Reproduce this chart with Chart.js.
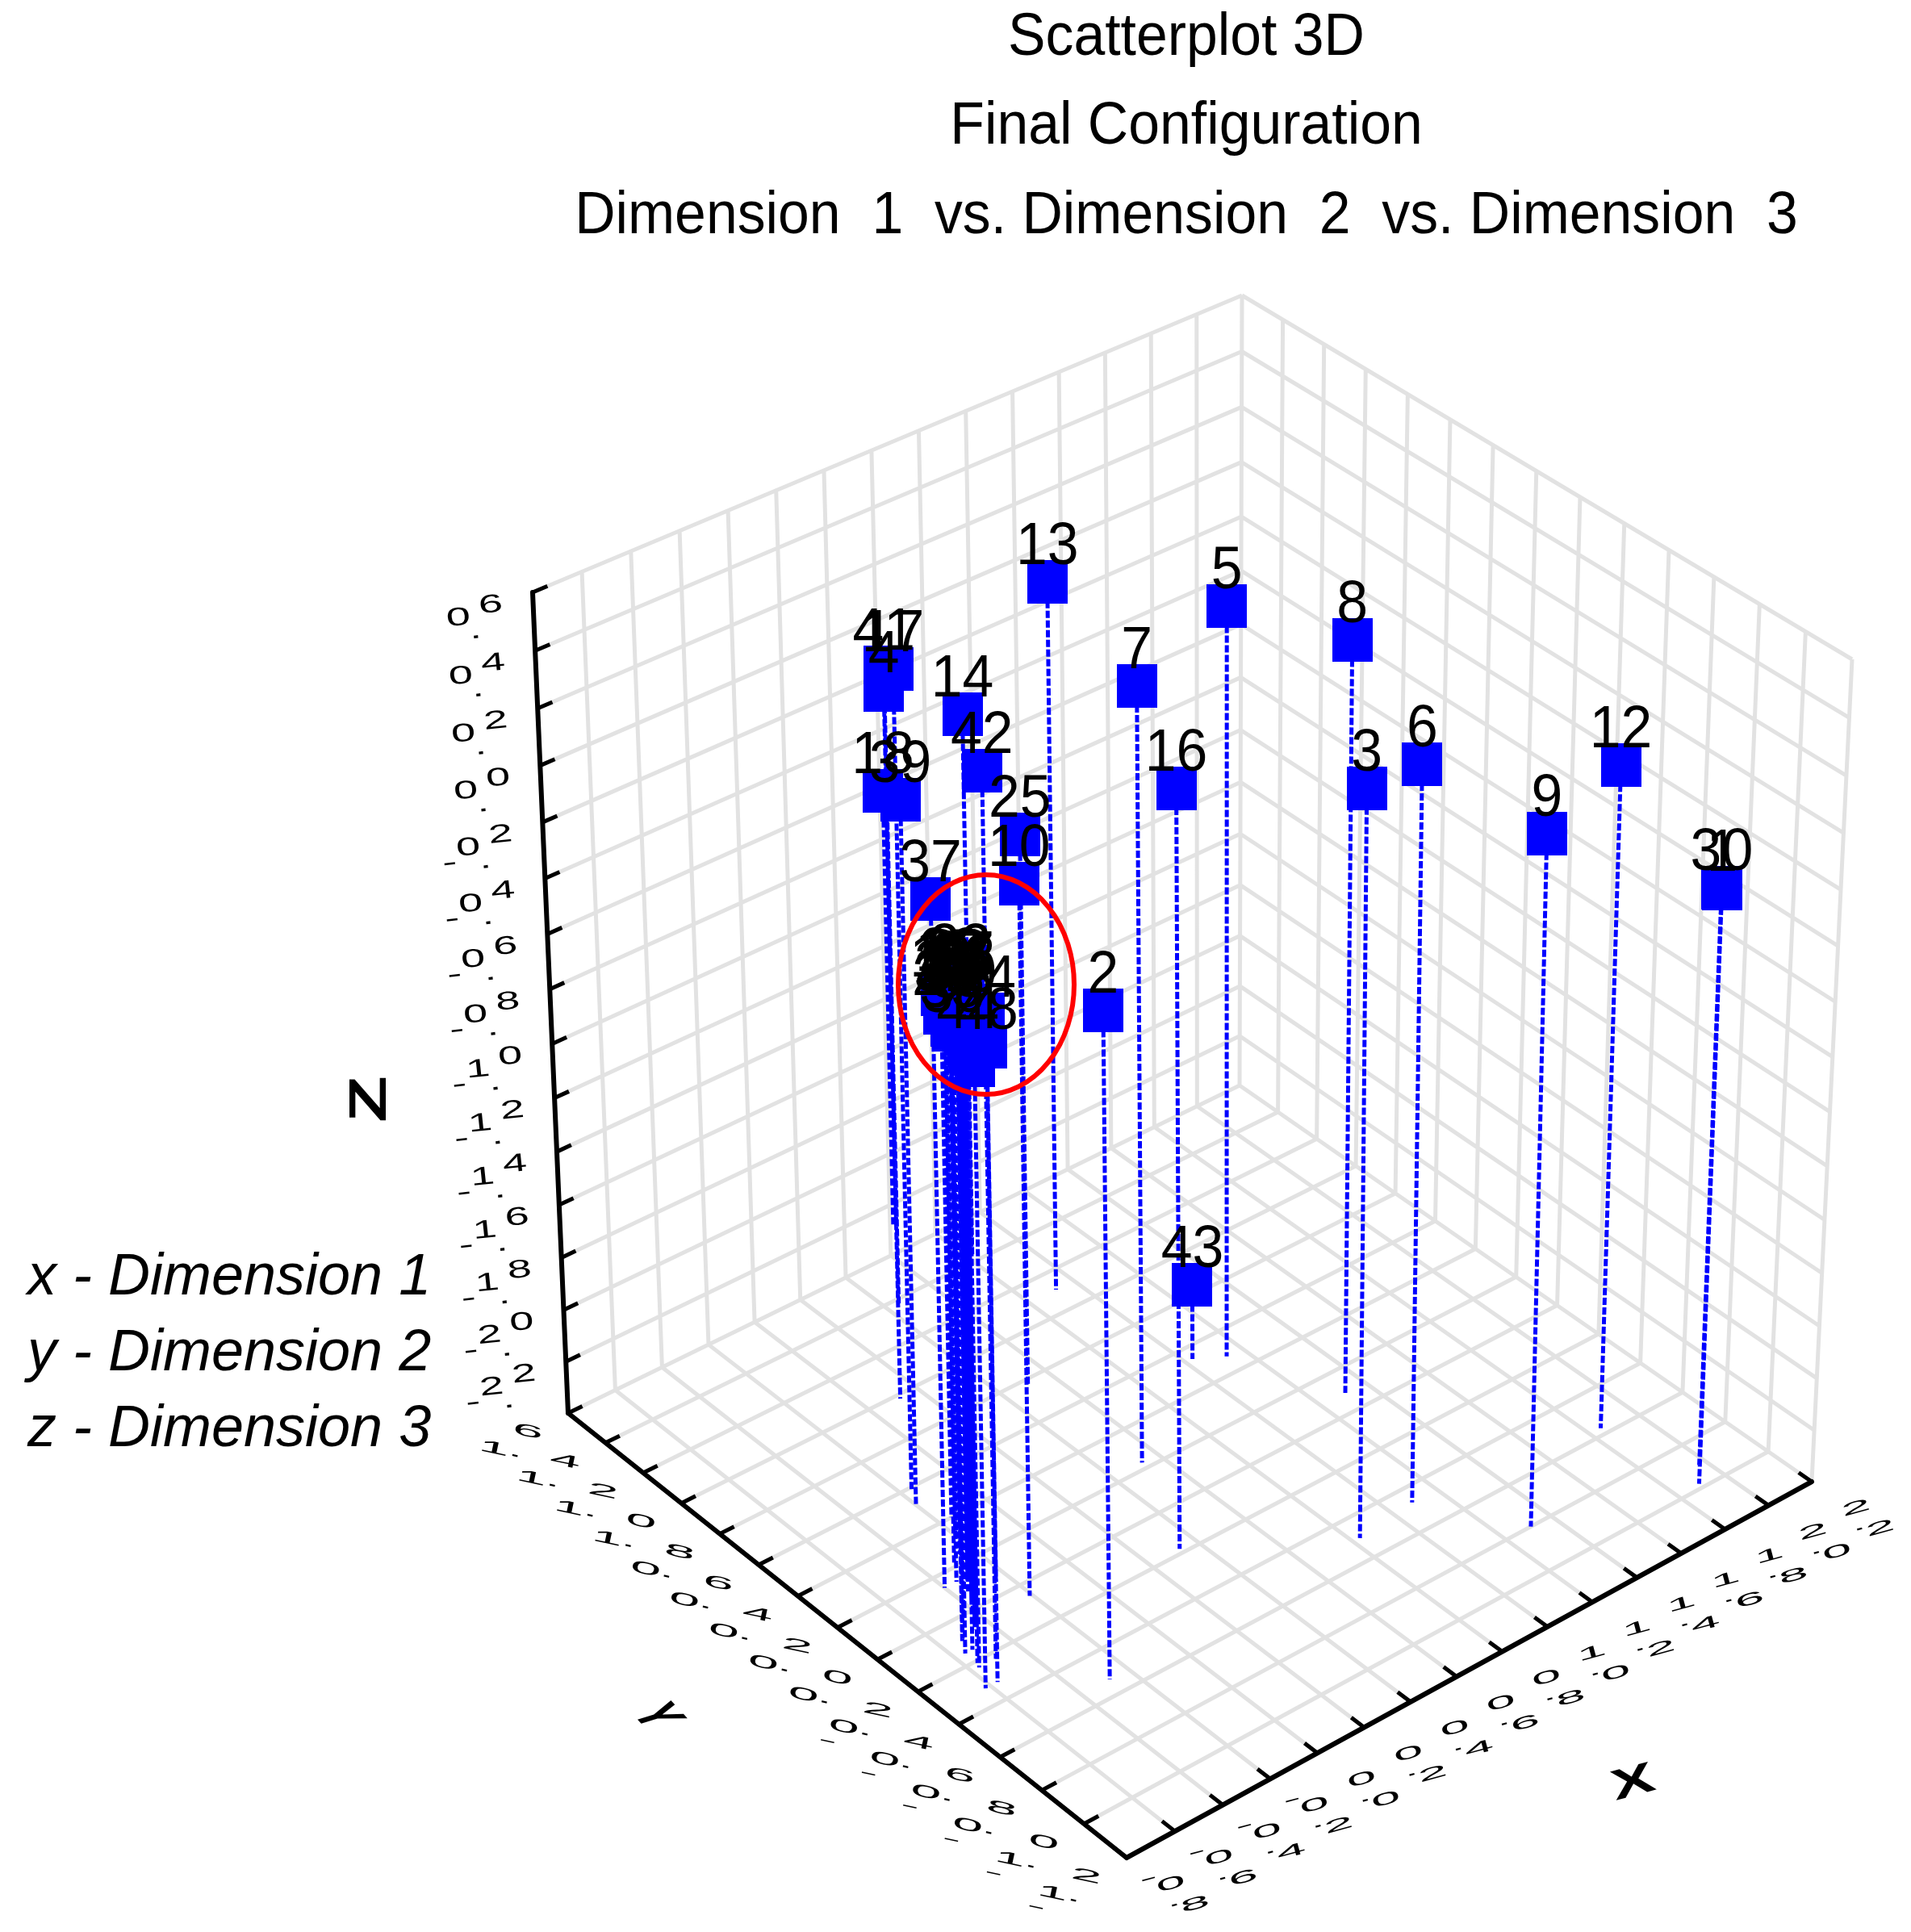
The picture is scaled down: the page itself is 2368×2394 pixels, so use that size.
<!doctype html>
<html>
<head>
<meta charset="utf-8">
<title>Scatterplot 3D</title>
<script src="https://cdn.jsdelivr.net/npm/chart.js@4"></script>
<style>
body { margin: 0; background: #fff; }
canvas { display: block; }
</style>
</head>
<body>
<canvas id="plot" width="2368" height="2394"></canvas>
<script>
const pointLabels = ["1","2","3","4","5","6","7","8","9","10","11","12","13","14","15","16","17","18","19","20","21","22","23","24","25","26","27","28","29","30","31","32","33","34","35","36","37","38","39","40","41","42","43","44","","48"];
const dim1 = [1.90,-0.28,0.83,0.12,1.13,1.09,0.53,1.31,1.31,-0.21,-0.21,1.85,0.92,0.82,-0.25,0.33,-0.16,0.72,-0.15,-0.31,-0.19,-0.38,-0.32,-0.44,0.50,-0.30,-0.46,-0.53,-0.36,1.97,-0.53,-0.35,-0.43,-0.50,-0.52,-0.56,-0.40,-0.40,-0.20,-0.56,0.45,-0.57,1.03,-0.57,-0.62,-0.25];
const dim2 = [-0.98,-0.53,-0.50,0.98,0.48,-0.47,0.23,0.09,-0.80,-0.06,0.31,-0.57,1.11,1.43,0.24,-0.18,0.59,1.73,0.40,0.16,0.33,0.03,0.12,0.00,0.77,0.21,-0.08,-0.10,0.07,-0.91,-0.15,0.14,-0.05,-0.23,-0.09,-0.15,0.14,0.00,0.52,-0.21,1.38,-0.32,0.54,-0.23,-0.32,0.06];
const dim3 = [-0.19,0.01,0.33,0.22,0.38,0.30,0.44,0.38,0.14,0.18,-0.37,0.06,0.25,-0.34,-0.32,0.36,0.58,-0.73,-0.46,-0.25,-0.43,-0.14,-0.23,-0.16,-0.33,-0.37,-0.08,-0.09,-0.24,-0.25,-0.04,-0.30,-0.12,-0.07,-0.17,-0.14,0.10,-0.23,0.18,-0.04,-0.01,0.82,-2.11,-0.15,-0.15,-0.43];

const xTicks = [-0.8,-0.6,-0.4,-0.2,0.0,0.2,0.4,0.6,0.8,1.0,1.2,1.4,1.6,1.8,2.0,2.2];
const yTicks = [1.6,1.4,1.2,1.0,0.8,0.6,0.4,0.2,0.0,-0.2,-0.4,-0.6,-0.8,-1.0,-1.2];
const zTicks = [0.6,0.4,0.2,0.0,-0.2,-0.4,-0.6,-0.8,-1.0,-1.2,-1.4,-1.6,-1.8,-2.0,-2.2,-2.4];
const zLabelled = zTicks.slice(0, 15); // bottom tick has no number in the original

const titleLines = ["Scatterplot 3D", "Final Configuration", "Dimension  1  vs. Dimension  2  vs. Dimension  3"];
const keyLines = ["x - Dimension 1", "y - Dimension 2", "z - Dimension 3"];

const xMin = -0.8, xMax = 2.2, yMin = -1.2, yMax = 1.6, zMin = -2.4, zMax = 0.6;

// maps the unit square on to a four sided shape, so the box keeps its perspective
function quad(p00, p10, p11, p01) {
    const dx1 = p10[0]-p11[0], dx2 = p01[0]-p11[0], sx = p00[0]-p10[0]+p11[0]-p01[0];
    const dy1 = p10[1]-p11[1], dy2 = p01[1]-p11[1], sy = p00[1]-p10[1]+p11[1]-p01[1];
    const det = dx1*dy2-dx2*dy1;
    const g = (sx*dy2-dx2*sy)/det, h = (dx1*sy-sx*dy1)/det;
    const a = p10[0]-p00[0]+g*p10[0], b = p01[0]-p00[0]+h*p01[0], c = p00[0];
    const d = p10[1]-p00[1]+g*p10[1], e = p01[1]-p00[1]+h*p01[1], f = p00[1];
    return (u, v) => {
        const w = g*u+h*v+1;
        return [(a*u+b*v+c)/w, (d*u+e*v+f)/w];
    };
}
const floorQuad = quad([704,1751],[1536,1345],[2245,1836],[1396,2302]);
const topQuad = quad([660,734],[1539,366],[2295,817],[1386,1235]);

function project(x, y, z) {
    const u = (x-xMin)/(xMax-xMin), v = (yMax-y)/(yMax-yMin);
    const a = floorQuad(u, v), b = topQuad(u, v);
    let t = (z-zMin)/(zMax-zMin);
    t = t/(t+(1-t)*1.07);
    return { x: a[0]+(b[0]-a[0])*t, y: a[1]+(b[1]-a[1])*t };
}

const gap = { x: NaN, y: NaN };
function segments(list) {
    const out = [];
    list.forEach(s => {
        out.push(project(...s[0]), project(...s[1]), gap);
    });
    return out;
}

// grid on the floor and the two back walls
const gridSegs = [];
xTicks.forEach(x => {
    gridSegs.push([[x,yMax,zMin],[x,yMin,zMin]]);
    gridSegs.push([[x,yMax,zMin],[x,yMax,zMax]]);
});
yTicks.forEach(y => {
    gridSegs.push([[xMin,y,zMin],[xMax,y,zMin]]);
    gridSegs.push([[xMax,y,zMin],[xMax,y,zMax]]);
});
zTicks.forEach(z => {
    gridSegs.push([[xMin,yMax,z],[xMax,yMax,z]]);
    gridSegs.push([[xMax,yMax,z],[xMax,yMin,z]]);
});

const axisSegs = [
    [[xMin,yMax,zMin],[xMin,yMax,zMax]],
    [[xMin,yMax,zMin],[xMin,yMin,zMin]],
    [[xMin,yMin,zMin],[xMax,yMin,zMin]]
];
const tickLen = 0.06;
const tickSegs = [];
zTicks.forEach(z => tickSegs.push([[xMin,yMax,z],[xMin+tickLen,yMax,z]]));
yTicks.forEach(y => tickSegs.push([[xMin,y,zMin],[xMin+tickLen,y,zMin]]));
xTicks.forEach(x => tickSegs.push([[x,yMin,zMin],[x,yMin+tickLen,zMin]]));

const spikeSegs = dim1.map((x, i) => [[x,dim2[i],dim3[i]],[x,dim2[i],zMin]]);
const markerData = dim1.map((x, i) => project(x, dim2[i], dim3[i]));

const marker = document.createElement("canvas");
marker.width = 50;
marker.height = 54;
const mctx = marker.getContext("2d");
mctx.fillStyle = "#0000ff";
mctx.fillRect(0, 0, 50, 54);

function fmt(v) {
    return v.toFixed(1);
}

// the tick numbers are flattened and pulled apart in the original, so each glyph is placed on its own
function drawTickLabel(ctx, value, pos, st) {
    const s = fmt(value), neg = s[0] === "-", t = neg ? s.slice(1) : s;
    const ax = pos.x+st.off[0], ay = pos.y+st.off[1];
    const glyph = (c, dx, dy) => {
        ctx.save();
        ctx.translate(ax+dx, ay+dy);
        ctx.rotate(st.tilt*Math.PI/180);
        ctx.scale(st.sx, st.sy);
        ctx.fillText(c, 0, 0);
        ctx.restore();
    };
    ctx.font = "30px 'Liberation Sans'";
    ctx.fillStyle = "#000";
    ctx.textAlign = "center";
    ctx.textBaseline = "middle";
    if (neg) glyph("-", st.minus[0], st.minus[1]);
    glyph(t[0], 0, 0);
    glyph(".", st.dot[0], st.dot[1]);
    glyph(t[2], st.last[0], st.last[1]);
}

const zStyle = { off:[-92,32], tilt:-6, sx:1.8, sy:1.05, minus:[-23,19], dot:[21,16], last:[40,-16] };
const yStyle = { off:[-92,44], tilt:12, sx:2.3, sy:0.7, minus:[-20,17], dot:[27,4], last:[42,-21] };
const xStyle = { off:[55,33], tilt:-15, sx:2.2, sy:0.7, minus:[-28,-7], dot:[3,21], last:[30,25] };

function narrowText(ctx, text, x, y) {
    ctx.save();
    ctx.translate(x, y);
    ctx.scale(0.93, 1);
    ctx.fillText(text, 0, 0);
    ctx.restore();
}

const textLayer = {
    id: "textLayer",
    afterDatasetsDraw(chart) {
        const ctx = chart.ctx, sx = chart.scales.x, sy = chart.scales.y;
        ctx.save();

        zLabelled.forEach(z => drawTickLabel(ctx, z, project(xMin,yMax,z), zStyle));
        yTicks.forEach(y => drawTickLabel(ctx, y, project(xMin,y,zMin), yStyle));
        xTicks.forEach(x => drawTickLabel(ctx, x, project(x,yMin,zMin), xStyle));

        // axis letters, squashed first and then turned
        const letter = (c, px, py, rot, wx, wy, outerX, outerY) => {
            ctx.save();
            ctx.translate(px, py);
            ctx.scale(outerX, outerY);
            ctx.rotate(rot*Math.PI/180);
            ctx.scale(wx, wy);
            ctx.font = "bold 50px 'Liberation Sans'";
            ctx.fillText(c, 0, 0);
            ctx.restore();
        };
        letter("Z", 460, 1362, -90, 1.9, 1.28, 1, 1);
        letter("Y", 812, 2127, 62, 1.1, 1.3, 1.25, 0.72);
        letter("X", 2024, 2210, -15, 1.6, 1.05, 1, 1);

        // point numbers go over all the markers
        ctx.font = "75px 'Liberation Sans'";
        ctx.textAlign = "center";
        ctx.textBaseline = "alphabetic";
        markerData.forEach((p, i) => {
            narrowText(ctx, pointLabels[i], sx.getPixelForValue(p.x), sy.getPixelForValue(p.y)-22);
        });

        ctx.textBaseline = "middle";
        titleLines.forEach((line, i) => narrowText(ctx, line, 1470, 47+i*110.5));

        ctx.font = "italic 72px 'Liberation Sans'";
        ctx.textAlign = "left";
        keyLines.forEach((line, i) => ctx.fillText(line, 34, 1584+i*94));

        ctx.strokeStyle = "#ff0000";
        ctx.lineWidth = 6;
        ctx.beginPath();
        ctx.ellipse(sx.getPixelForValue(1222), sy.getPixelForValue(1220), 109, 136, 0, 0, Math.PI*2);
        ctx.stroke();
        ctx.restore();
    }
};

new Chart(document.getElementById("plot"), {
    type: "scatter",
    data: {
        datasets: [
            { data: segments(gridSegs), showLine: true, pointRadius: 0, borderColor: "#e2e2e2", borderWidth: 5, order: 5 },
            { data: segments(axisSegs), showLine: true, pointRadius: 0, borderColor: "#000000", borderWidth: 6, borderCapStyle: "round", order: 4 },
            { data: segments(tickSegs), showLine: true, pointRadius: 0, borderColor: "#000000", borderWidth: 5, order: 4 },
            { data: segments(spikeSegs), showLine: true, pointRadius: 0, borderColor: "#0000ff", borderWidth: 5, borderDash: [9,3], order: 3 },
            { data: markerData, showLine: false, pointStyle: marker, pointRadius: 27, pointBorderWidth: 0, order: 2 }
        ]
    },
    options: {
        responsive: false,
        animation: false,
        layout: { padding: 0, autoPadding: false },
        clip: false,
        scales: {
            x: { type: "linear", min: 0, max: 2368, display: false },
            y: { type: "linear", min: 0, max: 2394, reverse: true, display: false }
        },
        plugins: { legend: { display: false }, tooltip: { enabled: false }, title: { display: false } }
    },
    plugins: [textLayer]
});
</script>
</body>
</html>
